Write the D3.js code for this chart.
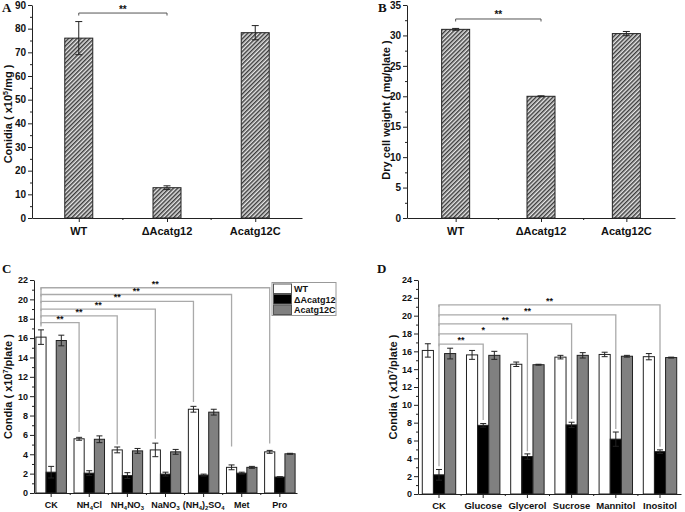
<!DOCTYPE html>
<html><head><meta charset="utf-8">
<script src="https://cdn.jsdelivr.net/npm/d3@7"></script>
<style>
body{margin:0;background:#fff}
svg{display:block}
text{font-family:"Liberation Sans",Arial,sans-serif;font-weight:bold;fill:#111}
</style>
</head><body><svg id="c" width="685" height="512"></svg>
<script>
// ---------- data ----------
const strainsAB = ["WT", "\u0394Acatg12", "Acatg12C"];
const conidiaA = [76.0, 12.8, 78.3];
const conidiaAErr = [7.0, 0.8, 3.0];
const weightB = [31.0, 20.0, 30.3];
const weightBErr = [0.15, 0.08, 0.35];
const ticksA = d3.range(0, 91, 10);
const ticksB = d3.range(0, 36, 5);

const series = ["WT", "\u0394Acatg12", "Acatg12C"];
const nitrogenC = ["CK", "NH4Cl", "NH4NO3", "NaNO3", "(NH4)2SO4", "Met", "Pro"];
const wtC = [16.1, 5.6, 4.45, 4.45, 8.65, 2.65, 4.25];
const wtCErr = [0.75, 0.15, 0.3, 0.7, 0.3, 0.25, 0.15];
const dC = [2.15, 2.05, 1.8, 1.95, 1.85, 2.05, 1.65];
const dCErr = [0.6, 0.25, 0.3, 0.2, 0.1, 0.1, 0.03];
const cC = [15.75, 5.55, 4.35, 4.25, 8.35, 2.65, 4.05];
const cCErr = [0.55, 0.35, 0.25, 0.25, 0.3, 0.1, 0.05];
const sigC = ["**", "**", "**", "**", "**", "**"];
const bracketLevelC = [17.6, 18.3, 19.0, 19.8, 20.5, 21.2];
const bracketEndC = [6.3, 5.0, 5.6, 9.4, 4.8, 5.1];
const ticksC = d3.range(0, 23, 2);

const carbonD = ["CK", "Glucose", "Glycerol", "Sucrose", "Mannitol", "Inositol"];
const wtD = [16.1, 15.6, 14.55, 15.35, 15.65, 15.4];
const wtDErr = [0.75, 0.5, 0.25, 0.2, 0.25, 0.35];
const dD = [2.15, 7.7, 4.2, 7.75, 6.15, 4.75];
const dDErr = [0.6, 0.2, 0.3, 0.3, 0.8, 0.2];
const cD = [15.75, 15.55, 14.5, 15.55, 15.45, 15.3];
const cDErr = [0.6, 0.45, 0.05, 0.3, 0.1, 0.05];
const sigD = ["**", "*", "**", "**", "**"];
const bracketLevelD = [16.8, 17.95, 19.07, 20.1, 21.2];
const bracketEndD = [8.3, 4.8, 8.4, 7.3, 5.3];
const ticksD = d3.range(0, 25, 2);

// ---------- drawing ----------
const svg = d3.select("#c");
const defs = svg.append("defs");
const pat = defs.append("pattern").attr("id", "hatch").attr("patternUnits", "userSpaceOnUse")
  .attr("width", 3).attr("height", 3).attr("patternTransform", "rotate(45)");
pat.append("rect").attr("width", 3).attr("height", 3).attr("fill", "#e6e6e6");
pat.append("line").attr("x1", 0.75).attr("x2", 0.75).attr("y1", 0).attr("y2", 3)
  .attr("stroke", "#333").attr("stroke-width", 1.4);

const fills = ["#ffffff", "#000000", "#808080"];
const AX = "#222";

function yAxis(g, y, ticks, x0, fs) {
  const minor = [];
  for (let i = 0; i < ticks.length - 1; i++) minor.push((ticks[i] + ticks[i + 1]) / 2);
  const a = g.append("g").attr("transform", `translate(${x0},0)`)
    .call(d3.axisLeft(y).tickValues(ticks).tickSize(4).tickPadding(2).tickSizeOuter(0));
  a.select(".domain").attr("stroke", AX);
  a.selectAll(".tick line").attr("stroke", AX);
  a.selectAll(".tick text").attr("font-size", fs).attr("font-family", "Liberation Sans,Arial,sans-serif").attr("font-weight", "bold").attr("fill", "#111");
  const m = g.append("g").attr("transform", `translate(${x0},0)`)
    .call(d3.axisLeft(y).tickValues(minor).tickSize(2).tickFormat("").tickSizeOuter(0));
  m.select(".domain").remove();
  m.selectAll(".tick line").attr("stroke", AX);
}

function xAxis(g, x, y0, minorPos) {
  const a = g.append("g").attr("transform", `translate(0,${y0})`)
    .call(d3.axisBottom(x).tickSize(4).tickFormat("").tickSizeOuter(0));
  a.select(".domain").attr("stroke", AX);
  a.selectAll(".tick line").attr("stroke", AX);
  g.append("g").selectAll("line").data(minorPos).join("line")
    .attr("x1", d => d).attr("x2", d => d).attr("y1", y0).attr("y2", y0 + 2).attr("stroke", AX);
}

function catLabel(g, text, x, yb, fs, subDigits) {
  const t = g.append("text").attr("x", x).attr("y", yb).attr("text-anchor", "middle").attr("font-size", fs);
  if (!subDigits) { t.text(text); return; }
  const parts = text.match(/\d+|\D+/g);
  let sub = false;
  parts.forEach(p => {
    const isD = /\d/.test(p);
    const ts = t.append("tspan").text(p);
    if (isD && !sub) { ts.attr("dy", 2).attr("font-size", fs * 0.65); sub = true; }
    else if (!isD && sub) { ts.attr("dy", -2); sub = false; }
    else if (isD) ts.attr("font-size", fs * 0.65);
  });
}

function yLabel(g, x, yc, pre, sup, post, fs) {
  const t = g.append("text").attr("transform", `translate(${x},${yc}) rotate(-90)`)
    .attr("text-anchor", "middle").attr("font-size", fs);
  t.append("tspan").text(pre);
  if (sup !== null) {
    t.append("tspan").text(sup).attr("dy", -4).attr("font-size", fs * 0.65);
    t.append("tspan").text(post).attr("dy", 4);
  }
}

function panelLetter(t, x, y) {
  svg.append("text").attr("x", x).attr("y", y).text(t)
    .style("font-family", "Liberation Serif,Times New Roman,serif").attr("font-size", 13);
}

function errBar(g, x, y, v, e, cap) {
  g.append("line").attr("x1", x).attr("x2", x).attr("y1", y(v - e)).attr("y2", y(v + e)).attr("stroke", "#222");
  [v - e, v + e].forEach(w => g.append("line").attr("x1", x - cap / 2).attr("x2", x + cap / 2)
    .attr("y1", y(w)).attr("y2", y(w)).attr("stroke", "#222"));
}

// ----- simple hatched panels (A, B) -----
function simplePanel(cfg) {
  const g = svg.append("g");
  const x = d3.scalePoint().domain(strainsAB).range(cfg.xr).padding(cfg.pad);
  const y = d3.scaleLinear().domain([0, cfg.max]).range(cfg.yr);
  const bw = 28;
  strainsAB.forEach((s, i) => {
    g.append("rect").attr("x", x(s) - bw / 2).attr("y", y(cfg.vals[i]))
      .attr("width", bw).attr("height", y(0) - y(cfg.vals[i]))
      .attr("fill", "url(#hatch)").attr("stroke", "#222").attr("stroke-width", 1);
    errBar(g, x(s), y, cfg.vals[i], cfg.errs[i], 7);
  });
  const step = x.step();
  xAxis(g, x, cfg.yr[0], [x(strainsAB[0]) + step / 2, x(strainsAB[1]) + step / 2]);
  yAxis(g, y, cfg.ticks, cfg.xr[0], 10);
  strainsAB.forEach(s => catLabel(g, s, x(s), cfg.yr[0] + 17, 11, false));
  const bx1 = x(strainsAB[0]), bx2 = x(strainsAB[1]), by = y(cfg.br);
  g.append("path").attr("d", `M${bx1},${by + 2.5}V${by}H${bx2}V${by + 2.5}`)
    .attr("fill", "none").attr("stroke", "#555").attr("stroke-width", 1);
  g.append("text").attr("x", (bx1 + bx2) / 2).attr("y", by - 0.5).attr("text-anchor", "middle")
    .attr("font-size", 10).text("**");
  yLabel(g, cfg.lx, cfg.ly, cfg.lab[0], cfg.lab[1], cfg.lab[2], 11);
}

simplePanel({ xr: [32, 302], yr: [218, 5], pad: 0.53, max: 90, vals: conidiaA, errs: conidiaAErr,
  ticks: ticksA, br: 86.6, lx: 12, ly: 114, lab: ["Conidia ( x10", "5", "/mg )"] });
simplePanel({ xr: [407, 675], yr: [218, 5], pad: 0.57, max: 35, vals: weightB, errs: weightBErr,
  ticks: ticksB, br: 32.7, lx: 390, ly: 110, lab: ["Dry cell weight ( mg/plate )", null, null] });
panelLetter("A", 2, 12);
panelLetter("B", 378, 12);

// ----- grouped panels (C, D) -----
function groupPanel(cfg) {
  const g = svg.append("g");
  const x = d3.scaleBand().domain(cfg.cats).range(cfg.xr).paddingInner(cfg.pi).paddingOuter(cfg.po);
  const xs = d3.scaleBand().domain(series).range([0, x.bandwidth()]);
  const y = d3.scaleLinear().domain([0, cfg.max]).range(cfg.yr);
  const data = [cfg.wt, cfg.d, cfg.c], errs = [cfg.wtE, cfg.dE, cfg.cE];
  cfg.cats.forEach((cat, i) => {
    series.forEach((s, k) => {
      const bx = x(cat) + xs(s);
      g.append("rect").attr("x", bx).attr("y", y(data[k][i]))
        .attr("width", xs.bandwidth()).attr("height", y(0) - y(data[k][i]))
        .attr("fill", fills[k]).attr("stroke", "#222").attr("stroke-width", 1);
    });
  });
  cfg.cats.forEach((cat, i) => {
    series.forEach((s, k) => {
      errBar(g, x(cat) + xs(s) + xs.bandwidth() / 2, y, data[k][i], errs[k][i], 6);
    });
  });
  const minor = cfg.cats.slice(0, -1).map(c => x(c) + x.bandwidth() / 2 + x.step() / 2);
  xAxis(g, x, cfg.yr[0], minor);
  yAxis(g, y, cfg.ticks, cfg.xr[0], 9);
  cfg.cats.forEach(c => catLabel(g, c, x(c) + x.bandwidth() / 2, cfg.yr[0] + 15, cfg.cfs, cfg.sub));
  const ref = series[cfg.refSeries];
  const cx = c => x(c) + xs(ref) + xs.bandwidth() / 2;
  const x0 = cx(cfg.cats[0]);
  const top = cfg.levels[cfg.levels.length - 1];
  const bg = g.append("g").attr("fill", "none").attr("stroke", "#aaa").attr("stroke-width", 1.3);
  bg.append("line").attr("x1", x0).attr("x2", x0).attr("y1", y(cfg.start)).attr("y2", y(top));
  cfg.levels.forEach((lv, j) => {
    const c = cfg.cats[j + 1];
    bg.append("path").attr("d", `M${x0},${y(lv) + 2}V${y(lv)}H${cx(c)}V${y(cfg.ends[j])}`);
    g.append("text").attr("x", (x0 + cx(c)) / 2).attr("y", y(lv) - 1).attr("text-anchor", "middle")
      .attr("font-size", 9).attr("fill", "#333").text(cfg.sig[j]);
  });
  yLabel(g, cfg.lx, (cfg.yr[0] + cfg.yr[1]) / 2, "Condia ( x10", "7", "/plate )", 11);
  return g;
}

groupPanel({ cats: nitrogenC, xr: [34, 297], pi: 0.2, po: 0.05, yr: [493, 280], max: 22,
  wt: wtC, d: dC, c: cC, wtE: wtCErr, dE: dCErr, cE: cCErr, ticks: ticksC, sub: true, cfs: 9,
  refSeries: 0, start: 17.2, levels: bracketLevelC, ends: bracketEndC, sig: sigC, lx: 12 });
groupPanel({ cats: carbonD, xr: [418, 681], pi: 0.244, po: 0.097, yr: [494, 280], max: 24,
  wt: wtD, d: dD, c: cD, wtE: wtDErr, dE: dDErr, cE: cDErr, ticks: ticksD, sub: false, cfs: 9.5,
  refSeries: 1, start: 3.1, levels: bracketLevelD, ends: bracketEndD, sig: sigD, lx: 397 });
panelLetter("C", 2, 273);
panelLetter("D", 377, 273);

// legend (panel C)
const lg = svg.append("g");
lg.append("rect").attr("x", 272).attr("y", 282.5).attr("width", 64).attr("height", 33)
  .attr("fill", "#fff").attr("stroke", "#999").attr("stroke-width", 1);
series.forEach((s, k) => {
  const yy = 284 + k * 10.5;
  lg.append("rect").attr("x", 273.5).attr("y", yy).attr("width", 18).attr("height", 9.5)
    .attr("fill", fills[k]).attr("stroke", "#555").attr("stroke-width", 1);
  lg.append("text").attr("x", 294).attr("y", yy + 8).attr("font-size", 9).text(s);
});
</script></body></html>
